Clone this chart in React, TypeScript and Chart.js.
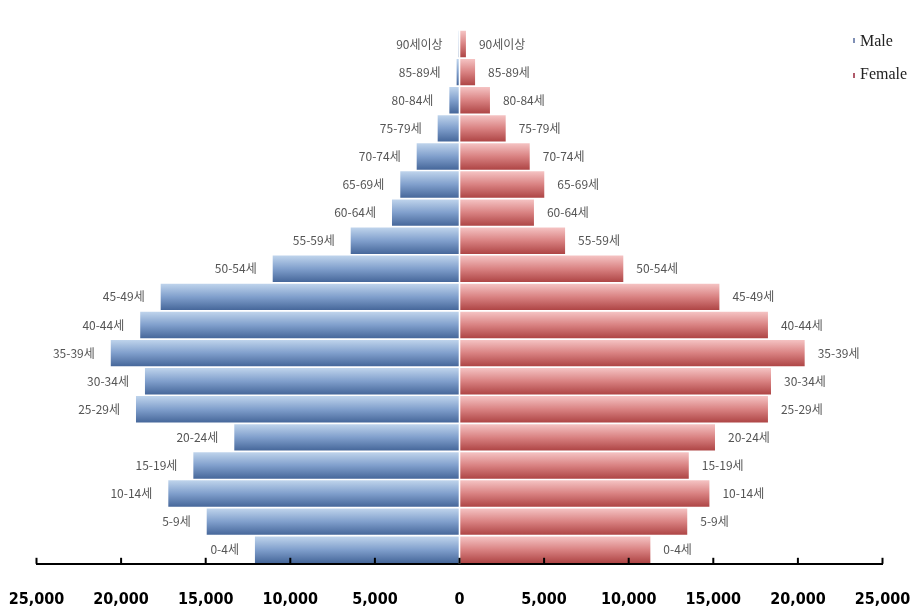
import React, { useEffect, useRef } from 'react';
import { Chart, registerables } from 'chart.js';

Chart.register(...registerables);

const ageGroups = [
  '90세이상', '85-89세', '80-84세', '75-79세', '70-74세', '65-69세', '60-64세',
  '55-59세', '50-54세', '45-49세', '40-44세', '35-39세', '30-34세', '25-29세',
  '20-24세', '15-19세', '10-14세', '5-9세', '0-4세',
];
const maleValues = [
  50, 170, 600, 1290, 2530, 3500, 3990, 6430, 11040, 17660, 18870, 20610,
  18590, 19120, 13310, 15730, 17210, 14940, 12090,
];
const femaleValues = [
  380, 920, 1800, 2730, 4150, 5010, 4400, 6240, 9680, 15360, 18230, 20400,
  18410, 18230, 15100, 13550, 14770, 13460, 11280,
];
const seriesNames = ['Male', 'Female'];
const axisMin = -25000;
const axisMax = 25000;
const axisStep = 5000;

const BAR_PCT = 0.94;
const maleStops: [number, string][] = [[0, '#bfd4ec'], [0.5, '#809fcc'], [1, '#46679a']];
const femaleStops: [number, string][] = [[0, '#f5c3c3'], [0.5, '#d98282'], [1, '#ae4545']];

function gradientFor(stops: [number, string][], fallback: string) {
  return (ctx: any) => {
    const chart = ctx.chart;
    const yScale = chart.scales && chart.scales.y;
    if (ctx.type !== 'data' || !yScale || !chart.chartArea) return fallback;
    const center = yScale.getPixelForValue(ctx.dataIndex);
    const pitch = chart.chartArea.height / ageGroups.length;
    const h = pitch * BAR_PCT;
    const g = chart.ctx.createLinearGradient(0, center - h / 2, 0, center + h / 2);
    stops.forEach(([o, c]) => g.addColorStop(o, c));
    return g;
  };
}

const barLabelsPlugin = {
  id: 'barLabels',
  afterDatasetsDraw(chart: any) {
    const c = chart.ctx;
    const area = chart.chartArea;
    c.save();
    const x0 = chart.scales.x.getPixelForValue(0);
    c.strokeStyle = '#ffffff';
    c.lineWidth = 1.6;
    c.beginPath();
    c.moveTo(x0, area.top);
    c.lineTo(x0, area.bottom);
    c.stroke();

    c.font = '12px "Noto Sans CJK KR", "DejaVu Sans", sans-serif';
    c.fillStyle = '#555555';
    c.textBaseline = 'middle';
    chart.getDatasetMeta(0).data.forEach((el: any, i: number) => {
      const { x, y } = el.getProps(['x', 'y'], true);
      c.textAlign = 'right';
      c.fillText(ageGroups[i], x - 16, y);
    });
    chart.getDatasetMeta(1).data.forEach((el: any, i: number) => {
      const { x, y } = el.getProps(['x', 'y'], true);
      c.textAlign = 'left';
      c.fillText(ageGroups[i], x + 13, y);
    });
    c.restore();
  },
  afterDraw(chart: any) {
    const c = chart.ctx;
    const xs = chart.scales.x;
    const yb = xs.top;
    c.save();
    c.strokeStyle = '#000000';
    c.lineWidth = 2;
    xs.ticks.forEach((t: any) => {
      const px = xs.getPixelForValue(t.value);
      c.beginPath();
      c.moveTo(px, yb);
      c.lineTo(px, yb - 6);
      c.stroke();
    });
    c.restore();
  },
};

export default function App() {
  const ref = useRef<HTMLCanvasElement | null>(null);

  useEffect(() => {
    if (!ref.current) return;
    const chart = new Chart(ref.current, {
      type: 'bar',
      data: {
        labels: ageGroups,
        datasets: [
          {
            label: seriesNames[0],
            data: maleValues.map((v) => -v),
            backgroundColor: gradientFor(maleStops, '#7f9fcc') as any,
            borderWidth: 0,
            barPercentage: BAR_PCT,
            categoryPercentage: 1,
          },
          {
            label: seriesNames[1],
            data: femaleValues,
            backgroundColor: gradientFor(femaleStops, '#d98282') as any,
            borderWidth: 0,
            barPercentage: BAR_PCT,
            categoryPercentage: 1,
          },
        ],
      },
      options: {
        indexAxis: 'y',
        animation: false,
        responsive: false,
        maintainAspectRatio: false,
        layout: { padding: { left: 36.5, right: 32.5, top: 30, bottom: 0 } },
        plugins: {
          legend: { display: false },
          tooltip: { enabled: false },
        },
        scales: {
          x: {
            type: 'linear',
            stacked: true,
            min: axisMin,
            max: axisMax,
            grid: { display: false, drawTicks: true, tickLength: 24, color: 'rgba(0,0,0,0)' },
            border: { display: true, color: '#000000', width: 2 },
            ticks: {
              stepSize: axisStep,
              padding: 2,
              color: '#000000',
              autoSkip: false,
              maxRotation: 0,
              font: { family: '"DejaVu Sans Condensed", "DejaVu Sans", sans-serif', size: 16, weight: 'bold' },
              callback: (v: any) => Math.abs(Number(v)).toLocaleString('en-US'),
            },
          },
          y: {
            type: 'category',
            stacked: true,
            display: false,
            grid: { display: false },
          },
        },
      },
      plugins: [barLabelsPlugin],
    });
    return () => chart.destroy();
  }, []);

  const legendText: React.CSSProperties = {
    position: 'absolute',
    left: 860,
    fontFamily: '"Liberation Serif", serif',
    fontSize: 16,
    color: '#222',
    lineHeight: '18px',
    whiteSpace: 'nowrap',
  };
  const marker = (color: string, top: number): React.CSSProperties => ({
    position: 'absolute',
    left: 853,
    top,
    width: 2,
    height: 5,
    background: color,
  });

  return (
    <div style={{ position: 'absolute', left: 0, top: 0, width: 915, height: 611, background: '#fff', overflow: 'hidden' }}>
      <canvas ref={ref} width={915} height={611} style={{ width: 915, height: 611, display: 'block' }} />
      <span style={marker('#7f8fb5', 38)} />
      <span style={{ ...legendText, top: 32 }}>{seriesNames[0]}</span>
      <span style={marker('#b05a6a', 73)} />
      <span style={{ ...legendText, top: 65 }}>{seriesNames[1]}</span>
    </div>
  );
}
